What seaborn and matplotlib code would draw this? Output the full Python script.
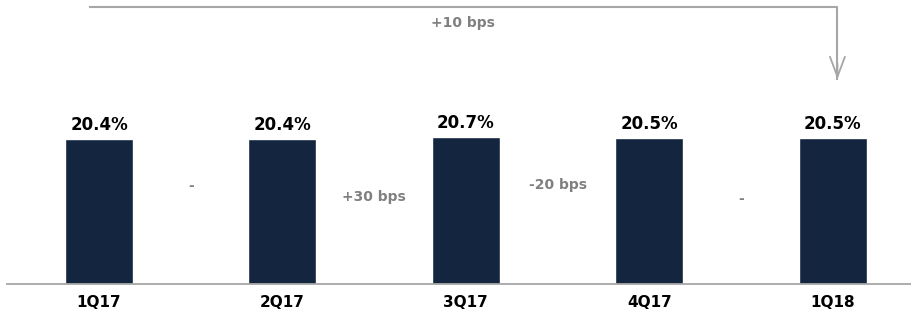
import matplotlib
matplotlib.use("Agg")
import matplotlib.pyplot as plt
import seaborn as sns
import pandas as pd

# Quarterly ratio, percent
quarters = ["1Q17", "2Q17", "3Q17", "4Q17", "1Q18"]
ratio = [20.4, 20.4, 20.7, 20.5, 20.5]

# Quarter-over-quarter changes, shown between the bars
qoq_labels = ["-", "+30 bps", "-20 bps", "-"]
qoq_label_y = [13.8, 12.2, 13.9, 12.0]

# Year-over-year change, shown above the bracket arrow
yoy_label = "+10 bps"

BAR_COLOR = "#13253f"
GRAY_TEXT = "#808080"
GRAY_LINE = "#a6a6a6"

sns.set_theme(style="white")
plt.rcParams["font.family"] = ["DejaVu Sans"]

fig = plt.figure(figsize=(9.11, 3.21), dpi=100)
W, H = 911, 321
ax = fig.add_axes([7 / W, (H - 284) / H, (W - 7) / W, 284 / H])

df = pd.DataFrame({"quarter": quarters, "ratio": ratio})
sns.barplot(data=df, x="quarter", y="ratio", color=BAR_COLOR,
            saturation=1, width=0.37, ax=ax)

ax.set_xlim(-0.5016, 4.427)
ax.set_ylim(0, 39.94)

# Value labels on top of each bar
for i, v in enumerate(ratio):
    ax.annotate(f"{v:.1f}%", xy=(i, v), xytext=(0, 10.2),
                textcoords="offset points", ha="center", va="center",
                fontsize=12, fontweight="bold", color="black")

# Changes between consecutive quarters
for i, (lab, y) in enumerate(zip(qoq_labels, qoq_label_y)):
    ax.text(i + 0.5, y, lab, ha="center", va="center",
            fontsize=10, fontweight="bold", color=GRAY_TEXT)

# Bracket arrow from first to last quarter
x0, x1 = -0.055, 4.026
y_top, y_tip = 38.9, 28.4
ax.plot([x0, x1, x1], [y_top, y_top, y_tip + 0.3], color=GRAY_LINE,
        lw=1.5, solid_capstyle="butt", clip_on=False)
ax.annotate("", xy=(x1, y_tip), xytext=(x1, y_tip + 3),
            arrowprops=dict(arrowstyle="->,head_length=1.2,head_width=0.45",
                            color=GRAY_LINE, lw=1.3))
ax.text((x0 + x1) / 2, 36.7, yoy_label, ha="center", va="center",
        fontsize=10, fontweight="bold", color=GRAY_TEXT)

# Axis styling: only the baseline remains
for side in ["top", "right", "left"]:
    ax.spines[side].set_visible(False)
ax.spines["bottom"].set_color(GRAY_LINE)
ax.spines["bottom"].set_linewidth(1.3)
ax.set_yticks([])
ax.set_xlabel("")
ax.set_ylabel("")
ax.tick_params(axis="x", length=0, pad=8, labelsize=11, labelcolor="black")
for t in ax.get_xticklabels():
    t.set_fontweight("bold")

fig.savefig("out.png", dpi=100)
